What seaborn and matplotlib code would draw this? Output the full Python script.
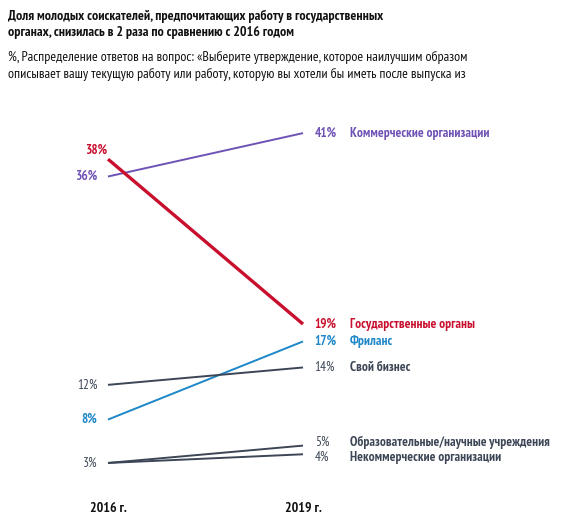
import pandas as pd
import matplotlib.pyplot as plt
import seaborn as sns
from matplotlib import font_manager

years = ["2016 г.", "2019 г."]
categories = ["Коммерческие организации", "Государственные органы", "Фриланс",
              "Свой бизнес", "Образовательные/научные учреждения", "Некоммерческие организации"]
v2016 = [36, 38, 8, 12, 3, 3]
v2019 = [41, 19, 17, 14, 5, 4]
colors = ["#6f52b5", "#c8102e", "#1d87c9", "#3d4656", "#3d4656", "#3d4656"]

rows = []
for c, a, b in zip(categories, v2016, v2019):
    rows.append({"cat": c, "x": 0, "v": a})
    rows.append({"cat": c, "x": 1, "v": b})
df = pd.DataFrame(rows)

sns.set_theme(style="white")
names = {f.name for f in font_manager.fontManager.ttflist}
cands = ["PT Sans Narrow", "Roboto Condensed", "Fira Sans Condensed", "IBM Plex Sans Condensed",
         "Open Sans Condensed", "Ubuntu Condensed", "Archivo Narrow", "Barlow Condensed"]
fams = [f for f in cands if f in names] + ["DejaVu Sans"]
plt.rcParams['font.family'] = fams

fig = plt.figure(figsize=(5.63, 5.2), dpi=100)
ax = fig.add_axes([0, 0, 1, 1])
sns.lineplot(data=df, x="x", y="v", hue="cat", hue_order=categories,
             palette=dict(zip(categories, colors)), legend=False, ax=ax)
for line, c in zip(ax.lines, categories):
    line.set_linewidth(2.4 if c == "Государственные органы" else 1.4)
    line.set_solid_capstyle("butt")

ax.set_xlim(-108 / 195, (563 - 108) / 195)
ax.set_ylim((489 - 520) / 8.68, 489 / 8.68)
ax.axis("off")

# labels at the ends of the lines
bold = [True, True, True, False, False, False]
off2016 = [0, 1.0, 0, 0, 0, 0]
off2019 = [0, 0, 0, 0, 0.4, -0.4]
for i, c in enumerate(categories):
    w = "bold" if bold[i] else "normal"
    if i == 1:
        ax.text(-0.005, v2016[i] + off2016[i], f"{v2016[i]}%", color=colors[i], ha="right",
                va="center", fontsize=9.5, fontweight=w)
    elif i != 5:
        ax.text(-0.055, v2016[i], f"{v2016[i]}%", color=colors[i], ha="right",
                va="center", fontsize=9.5, fontweight=w)
    ax.text(1.06, v2019[i] + off2019[i], f"{v2019[i]}%", color=colors[i], ha="left",
            va="center", fontsize=9.5, fontweight=w)
    ax.text(1.24, v2019[i] + off2019[i], c, color=colors[i], ha="left",
            va="center", fontsize=9.6, fontweight="bold")

for i, y in enumerate(years):
    ax.text(i, (489 - 508) / 8.68, y, ha="center", va="center", fontsize=10,
            fontweight="bold", color="#111111")

fig.text(0.015, 1 - 10 / 520, "Доля молодых соискателей, предпочитающих работу в государственных\n"
         "органах, снизилась в 2 раза по сравнению с 2016 годом",
         ha="left", va="top", fontsize=10, fontweight="bold", linespacing=1.3, color="#111111")
fig.text(0.015, 1 - 51 / 520, "%, Распределение ответов на вопрос: «Выберите утверждение, которое наилучшим образом\n"
         "описывает вашу текущую работу или работу, которую вы хотели бы иметь после выпуска из",
         ha="left", va="top", fontsize=10, linespacing=1.35, color="#111111")

fig.savefig("out.png", dpi=100)
